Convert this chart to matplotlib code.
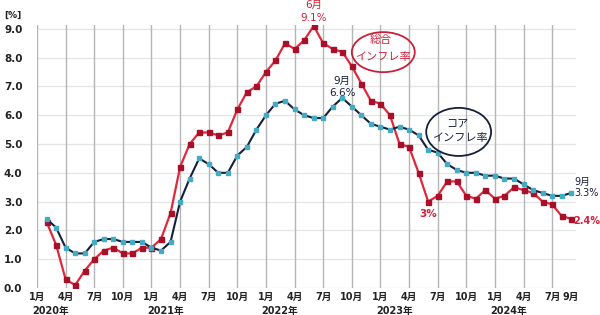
import matplotlib
matplotlib.use("Agg")
import matplotlib.pyplot as plt
from matplotlib.patches import Ellipse
import matplotlib.transforms as mtransforms

plt.rcParams['font.family'] = ['DejaVu Sans', 'Noto Sans CJK JP']

# Data: monthly YoY %, Feb 2020 .. Sep 2024 (index 0 = Jan 2020)
start_index = 1
headline = [2.3, 1.5, 0.3, 0.1, 0.6, 1.0, 1.3, 1.4, 1.2, 1.2, 1.4,
            1.4, 1.7, 2.6, 4.2, 5.0, 5.4, 5.4, 5.3, 5.4, 6.2, 6.8, 7.0,
            7.5, 7.9, 8.5, 8.3, 8.6, 9.1, 8.5, 8.3, 8.2, 7.7, 7.1, 6.5,
            6.4, 6.0, 5.0, 4.9, 4.0, 3.0, 3.2, 3.7, 3.7, 3.2, 3.1, 3.4,
            3.1, 3.2, 3.5, 3.4, 3.3, 3.0, 2.9, 2.5, 2.4]
core = [2.4, 2.1, 1.4, 1.2, 1.2, 1.6, 1.7, 1.7, 1.6, 1.6, 1.6,
        1.4, 1.3, 1.6, 3.0, 3.8, 4.5, 4.3, 4.0, 4.0, 4.6, 4.9, 5.5,
        6.0, 6.4, 6.5, 6.2, 6.0, 5.9, 5.9, 6.3, 6.6, 6.3, 6.0, 5.7,
        5.6, 5.5, 5.6, 5.5, 5.3, 4.8, 4.7, 4.3, 4.1, 4.0, 4.0, 3.9,
        3.9, 3.8, 3.8, 3.6, 3.4, 3.3, 3.2, 3.2, 3.3]
tick_pos = [0, 3, 6, 9, 12, 15, 18, 21, 24, 27, 30, 33, 36, 39, 42, 45, 48, 51, 54, 56]
tick_labels = ['1月', '4月', '7月', '10月'] * 4 + ['1月', '4月', '7月', '9月']
year_pos = [0, 12, 24, 36, 48]
year_labels = ['2020年', '2021年', '2022年', '2023年', '2024年']
y_ticks = [0, 1, 2, 3, 4, 5, 6, 7, 8, 9]

x = list(range(start_index, start_index + len(headline)))

fig = plt.figure(figsize=(6.0, 3.15), dpi=100)
ax = fig.add_axes([37/600, 1-288/315, (576-37)/600, (288-24.5)/315])
ax.set_xlim(0, 56.5)
ax.set_ylim(0, 9.15)

for s in ax.spines.values():
    s.set_visible(False)

for yv in y_ticks:
    ax.axhline(yv, color='#e4e4e4', lw=0.9, zorder=0)
for xv in tick_pos[:-1]:
    ax.axvline(xv, color='#b5b5b5', lw=1.0, zorder=0)

red_line = '#e0283c'
red_mark = '#a8102a'
core_line = '#16203a'
core_mark = '#45aac4'

ax.plot(x, headline, color=red_line, lw=1.6, marker='s', ms=3.6,
        mfc=red_mark, mec=red_mark, zorder=3)
ax.plot(x, core, color=core_line, lw=1.5, marker='s', ms=3.0,
        mfc=core_mark, mec=core_mark, zorder=4)

ax.set_yticks(y_ticks)
ax.set_yticklabels([f'{v:.1f}' for v in y_ticks], fontsize=7.5, fontweight='bold', color='#222222')
ax.set_xticks(tick_pos)
ax.set_xticklabels(tick_labels, fontsize=7, fontweight='bold', color='#222222')
ax.tick_params(axis='both', length=0)
ax.tick_params(axis='y', pad=10.5)
ax.tick_params(axis='x', pad=3)

trans = mtransforms.blended_transform_factory(ax.transData, fig.transFigure)
for xp, lab in zip(year_pos, year_labels):
    ax.text(xp - 0.45, 1 - 311/315, lab, transform=trans, ha='left', va='center',
            fontsize=7, fontweight='bold', color='#222222')

fig.text(13/600, 1 - 15/315, '[%]', ha='center', va='center', fontsize=6.5,
         fontweight='bold', color='#222222')

# annotations
ax.text(29, 9.83, '6月', ha='center', va='center', fontsize=7.5, color='#d0203a', clip_on=False)
ax.text(29, 9.38, '9.1%', ha='center', va='center', fontsize=7.5, color='#d0203a', clip_on=False)
ax.text(32, 7.19, '9月', ha='center', va='center', fontsize=7.5, color='#16203a')
ax.text(32, 6.77, '6.6%', ha='center', va='center', fontsize=7.5, color='#16203a')
ax.text(41, 2.57, '3%', ha='center', va='center', fontsize=7.5, fontweight='bold', color='#d0203a')
ax.text(56.3, 3.68, '9月', ha='left', va='center', fontsize=7, color='#16203a', clip_on=False)
ax.text(56.3, 3.30, '3.3%', ha='left', va='center', fontsize=7, color='#16203a', clip_on=False)
ax.text(56.2, 2.33, '2.4%', ha='left', va='center', fontsize=7, fontweight='bold', color='#d0203a', clip_on=False)

ax.add_patch(Ellipse((36.3, 8.19), 6.6, 1.39, fill=False, ec='#c8203a', lw=1.3, zorder=5))
ax.text(36.0, 8.60, '総合', ha='center', va='center', fontsize=8, color='#d0203a', zorder=6)
ax.text(36.3, 8.02, 'インフレ率', ha='center', va='center', fontsize=8, color='#d0203a', zorder=6)

ax.add_patch(Ellipse((44.2, 5.42), 6.8, 1.67, fill=False, ec='#16203a', lw=1.3, zorder=5))
ax.text(42.9, 5.72, 'コア', ha='left', va='center', fontsize=8, color='#16203a', zorder=6)
ax.text(44.3, 5.20, 'インフレ率', ha='center', va='center', fontsize=8, color='#16203a', zorder=6)

fig.savefig('out.png', dpi=100)
